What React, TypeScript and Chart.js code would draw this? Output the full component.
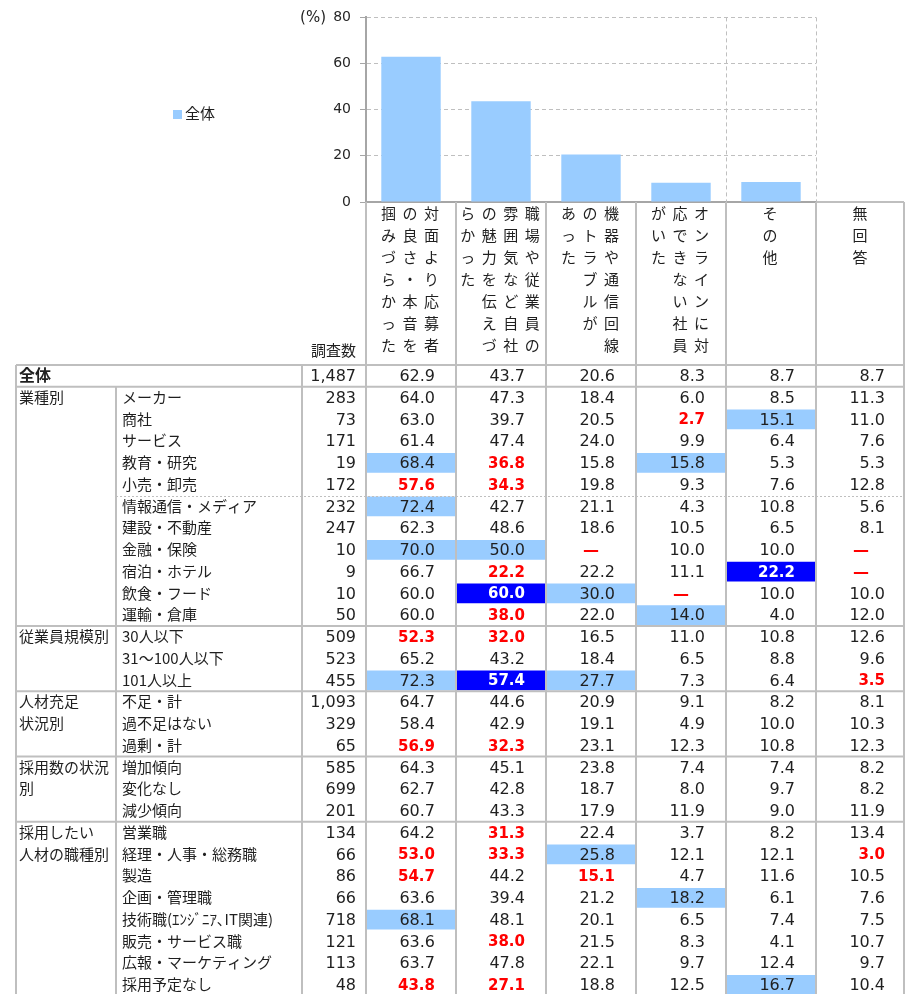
import React, { useEffect, useRef } from "react";
import { Chart, registerables } from "chart.js";

Chart.register(...registerables);

// ---------- data ----------
const categories = [
  "対面より応募者の良さ・本音を掴みづらかった",
  "職場や従業員の雰囲気など自社の魅力を伝えづらかった",
  "機器や通信回線のトラブルがあった",
  "オンラインに対応できない社員がいた",
  "その他",
];
const extraColumn = "無回答";
// header text columns, written top-to-bottom, listed right-to-left
const headerLines = [
  ["対面より応募者", "の良さ・本音を", "掴みづらかった"],
  ["職場や従業員の", "雰囲気など自社", "の魅力を伝えづ", "らかった"],
  ["機器や通信回線", "のトラブルが", "あった"],
  ["オンラインに対", "応できない社員", "がいた"],
  ["その他"],
  [extraColumn],
];
const seriesName = "全体";
const overallValues = [62.9, 43.7, 20.6, 8.3, 8.7];
const yTicks = [0, 20, 40, 60, 80];
const unitLabel = "(%)";
const countHeader = "調査数";

const groupNames = [
  ["全体"],
  ["業種別"],
  ["従業員規模別"],
  ["人材充足", "状況別"],
  ["採用数の状況", "別"],
  ["採用したい", "人材の職種別"],
];
const groupSizes = [1, 11, 3, 3, 3, 8];

const rowLabels = [
  "全体",
  "メーカー", "商社", "サービス", "教育・研究", "小売・卸売",
  "情報通信・メディア", "建設・不動産", "金融・保険", "宿泊・ホテル", "飲食・フード", "運輸・倉庫",
  "30人以下", "31～100人以下", "101人以上",
  "不足・計", "過不足はない", "過剰・計",
  "増加傾向", "変化なし", "減少傾向",
  "営業職", "経理・人事・総務職", "製造", "企画・管理職", "技術職(ｴﾝｼﾞﾆｱ､IT関連)",
  "販売・サービス職", "広報・マーケティング", "採用予定なし",
];
const rowCounts = [
  1487,
  283, 73, 171, 19, 172,
  232, 247, 10, 9, 10, 50,
  509, 523, 455,
  1093, 329, 65,
  585, 699, 201,
  134, 66, 86, 66, 718, 121, 113, 48,
];
const rowValues: (number | null)[][] = [
  [62.9, 43.7, 20.6, 8.3, 8.7, 8.7],
  [64.0, 47.3, 18.4, 6.0, 8.5, 11.3],
  [63.0, 39.7, 20.5, 2.7, 15.1, 11.0],
  [61.4, 47.4, 24.0, 9.9, 6.4, 7.6],
  [68.4, 36.8, 15.8, 15.8, 5.3, 5.3],
  [57.6, 34.3, 19.8, 9.3, 7.6, 12.8],
  [72.4, 42.7, 21.1, 4.3, 10.8, 5.6],
  [62.3, 48.6, 18.6, 10.5, 6.5, 8.1],
  [70.0, 50.0, null, 10.0, 10.0, null],
  [66.7, 22.2, 22.2, 11.1, 22.2, null],
  [60.0, 60.0, 30.0, null, 10.0, 10.0],
  [60.0, 38.0, 22.0, 14.0, 4.0, 12.0],
  [52.3, 32.0, 16.5, 11.0, 10.8, 12.6],
  [65.2, 43.2, 18.4, 6.5, 8.8, 9.6],
  [72.3, 57.4, 27.7, 7.3, 6.4, 3.5],
  [64.7, 44.6, 20.9, 9.1, 8.2, 8.1],
  [58.4, 42.9, 19.1, 4.9, 10.0, 10.3],
  [56.9, 32.3, 23.1, 12.3, 10.8, 12.3],
  [64.3, 45.1, 23.8, 7.4, 7.4, 8.2],
  [62.7, 42.8, 18.7, 8.0, 9.7, 8.2],
  [60.7, 43.3, 17.9, 11.9, 9.0, 11.9],
  [64.2, 31.3, 22.4, 3.7, 8.2, 13.4],
  [53.0, 33.3, 25.8, 12.1, 12.1, 3.0],
  [54.7, 44.2, 15.1, 4.7, 11.6, 10.5],
  [63.6, 39.4, 21.2, 18.2, 6.1, 7.6],
  [68.1, 48.1, 20.1, 6.5, 7.4, 7.5],
  [63.6, 38.0, 21.5, 8.3, 4.1, 10.7],
  [63.7, 47.8, 22.1, 9.7, 12.4, 9.7],
  [43.8, 27.1, 18.8, 12.5, 16.7, 10.4],
];
// '.' normal, 'r' red bold, 'l' light blue cell, 'b' blue cell
const rowMarks = [
  "......",
  "......", "...rl.", "......", "lr.l..", "rr....",
  "l.....", "......", "ll....", ".r..b.", ".bl...", ".r.l..",
  "rr....", "......", "lbl..r",
  "......", "......", "rr....",
  "......", "......", "......",
  ".r....", "rrl..r", "r.r...", "...l..", "l.....", ".r....", "......", "rr..l.",
];
const dashedAfterRow = 5;
const missingMark = "—";

// ---------- styles ----------
const JP = '"Noto Sans CJK JP", "Noto Sans", sans-serif';
const NUM = '"DejaVu Sans", Verdana, sans-serif';
const TEXT = "#1f1f1f";
const LIGHT = "#99ccff";
const DARK = "#0000ff";
const RED = "#ff0000";
const LINE = "#bfbfbf";
const AXIS = "#a6a6a6";

const ROW_TOP = 365;
const ROW_H = 21.75;
const X_LEFT = 16;
const X_SUB = 116;
const X_COUNT = 302;
const JP_SHIFT = -1.5;

export default function App() {
  const ref = useRef<HTMLCanvasElement>(null);

  useEffect(() => {
    const canvas = ref.current;
    if (!canvas) return;

    const gridPlugin = {
      id: "vgrid",
      beforeDatasetsDraw(chart: any) {
        const ctx = chart.ctx;
        const x = chart.scales.x;
        const a = chart.chartArea;
        const w = x.getPixelForValue(1) - x.getPixelForValue(0);
        ctx.save();
        ctx.strokeStyle = LINE;
        ctx.lineWidth = 1;
        ctx.setLineDash([4, 3]);
        [categories.length - 1, categories.length].forEach((i) => {
          const px = Math.round(x.getPixelForValue(i) - w / 2) + 0.5;
          ctx.beginPath();
          ctx.moveTo(px, a.top);
          ctx.lineTo(px, a.bottom);
          ctx.stroke();
        });
        ctx.restore();
      },
    };

    const tablePlugin = {
      id: "table",
      afterDraw(chart: any) {
        const ctx = chart.ctx;
        const x = chart.scales.x;
        const a = chart.chartArea;
        const w = x.getPixelForValue(1) - x.getPixelForValue(0);
        const colLeft = (i: number) => x.getPixelForValue(i) - w / 2;
        const colCenter = (i: number) => x.getPixelForValue(i);
        const nCols = categories.length + 1;
        const right = colLeft(nCols) - 2;
        const bottom = chart.height;
        const nRows = rowLabels.length;

        ctx.save();

        // legend
        const ds = chart.data.datasets[0];
        ctx.fillStyle = ds.backgroundColor;
        ctx.fillRect(173, 110, 9, 9);
        ctx.fillStyle = TEXT;
        ctx.font = `15px ${JP}`;
        ctx.textBaseline = "middle";
        ctx.textAlign = "left";
        ctx.fillText(ds.label, 185, 115 + JP_SHIFT);

        // unit
        ctx.font = `15px ${NUM}`;
        ctx.textAlign = "right";
        ctx.fillText(unitLabel, 326, a.top + 1);

        // cell backgrounds
        for (let r = 0; r < nRows; r++) {
          const top = ROW_TOP + r * ROW_H;
          for (let c = 0; c < nCols; c++) {
            const m = rowMarks[r][c];
            if (m === "l" || m === "b") {
              ctx.fillStyle = m === "l" ? LIGHT : DARK;
              ctx.fillRect(colLeft(c) + 1, top + 1, w - 2, ROW_H - 2);
            }
          }
        }

        // lines
        ctx.strokeStyle = LINE;
        ctx.lineWidth = 2;
        const hline = (y: number, x0: number, x1: number) => {
          ctx.beginPath();
          ctx.moveTo(x0, y);
          ctx.lineTo(x1, y);
          ctx.stroke();
        };
        const vline = (xx: number, y0: number, y1: number) => {
          ctx.beginPath();
          ctx.moveTo(xx, y0);
          ctx.lineTo(xx, y1);
          ctx.stroke();
        };
        hline(a.bottom, colLeft(nCols - 1), right);
        for (let c = 0; c <= nCols; c++) {
          const xx = c === nCols ? right : Math.round(colLeft(c));
          vline(xx, a.bottom, bottom);
        }
        vline(X_LEFT, ROW_TOP, bottom);
        vline(X_COUNT, ROW_TOP, bottom);
        vline(X_SUB, ROW_TOP + ROW_H, bottom);
        hline(ROW_TOP, X_LEFT, right);
        let acc = 0;
        groupSizes.forEach((n) => {
          acc += n;
          if (acc < nRows) hline(ROW_TOP + acc * ROW_H, X_LEFT, right);
        });
        ctx.lineWidth = 1;
        ctx.setLineDash([2, 2]);
        hline(Math.round(ROW_TOP + (dashedAfterRow + 1) * ROW_H) + 0.5, X_SUB, right);
        ctx.setLineDash([]);

        // header vertical text
        ctx.fillStyle = TEXT;
        ctx.font = `15px ${JP}`;
        ctx.textAlign = "center";
        ctx.textBaseline = "middle";
        headerLines.forEach((lines, c) => {
          const n = lines.length;
          lines.forEach((line, j) => {
            const cx = colCenter(c) - 1 + ((n - 1) / 2 - j) * 21.5;
            Array.from(line).forEach((ch, k) => {
              ctx.fillText(ch, cx, a.bottom + 13 + k * 22 + JP_SHIFT);
            });
          });
        });
        ctx.textAlign = "right";
        ctx.fillText(countHeader, 356, ROW_TOP - 13 + JP_SHIFT);

        // group labels
        let start = 0;
        groupNames.forEach((names, g) => {
          if (g > 0) {
            ctx.font = `15px ${JP}`;
            ctx.textAlign = "left";
            ctx.fillStyle = TEXT;
            names.forEach((nm, k) => {
              ctx.fillText(nm, 19, ROW_TOP + (start + k) * ROW_H + ROW_H / 2 + 1 + JP_SHIFT);
            });
          }
          start += groupSizes[g];
        });

        // rows
        for (let r = 0; r < nRows; r++) {
          const cy = ROW_TOP + r * ROW_H + ROW_H / 2 + 1;
          ctx.textAlign = "left";
          ctx.fillStyle = TEXT;
          if (r === 0) {
            ctx.font = `bold 16px ${JP}`;
            ctx.fillText(rowLabels[r], 19, cy + JP_SHIFT);
          } else {
            ctx.font = `15px ${JP}`;
            ctx.fillText(rowLabels[r], 122, cy + JP_SHIFT);
          }
          ctx.textAlign = "right";
          ctx.font = `16px ${NUM}`;
          ctx.fillText(rowCounts[r].toLocaleString("en-US"), 356, cy);
          for (let c = 0; c < nCols; c++) {
            const v = rowValues[r][c];
            const m = rowMarks[r][c];
            if (v === null) {
              ctx.textAlign = "center";
              ctx.fillStyle = RED;
              ctx.font = `bold 16px ${NUM}`;
              ctx.fillText(missingMark, colCenter(c), cy);
              continue;
            }
            ctx.textAlign = "right";
            if (m === "r") {
              ctx.fillStyle = RED;
              ctx.font = `bold 15px ${NUM}`;
            } else if (m === "b") {
              ctx.fillStyle = "#ffffff";
              ctx.font = `bold 15px ${NUM}`;
            } else {
              ctx.fillStyle = TEXT;
              ctx.font = `16px ${NUM}`;
            }
            ctx.fillText(v.toFixed(1), colCenter(c) + 24, cy);
          }
        }
        ctx.restore();
      },
    };

    const chart = new Chart(canvas, {
      type: "bar",
      data: {
        labels: categories,
        datasets: [
          {
            label: seriesName,
            data: overallValues,
            backgroundColor: LIGHT,
            borderWidth: 0,
            barPercentage: 0.66,
            categoryPercentage: 1,
          },
        ],
      },
      options: {
        responsive: false,
        animation: false,
        devicePixelRatio: 1,
        layout: { padding: { top: 17, right: 89, left: 0, bottom: 0 } },
        plugins: { legend: { display: false }, tooltip: { enabled: false } },
        scales: {
          x: {
            ticks: { display: false },
            grid: { display: false, drawTicks: false },
            border: { display: true, color: AXIS, width: 2 },
            afterFit: (s: any) => {
              s.height = 792;
            },
          },
          y: {
            min: yTicks[0],
            max: yTicks[yTicks.length - 1],
            afterBuildTicks: (s: any) => {
              s.ticks = yTicks.map((v) => ({ value: v }));
            },
            ticks: { font: { family: NUM, size: 14 }, color: "#262626", padding: 9 },
            grid: { color: LINE, lineWidth: 1, tickLength: 6, tickColor: AXIS },
            border: { display: true, color: AXIS, width: 2, dash: [4, 3] },
            afterFit: (s: any) => {
              s.width = 366;
            },
          },
        },
      },
      plugins: [gridPlugin, tablePlugin],
    } as any);

    return () => chart.destroy();
  }, []);

  return (
    <div style={{ position: "absolute", left: 0, top: 0, width: 905, height: 994, background: "#fff" }}>
      <canvas ref={ref} width={905} height={994} style={{ display: "block" }} />
    </div>
  );
}
